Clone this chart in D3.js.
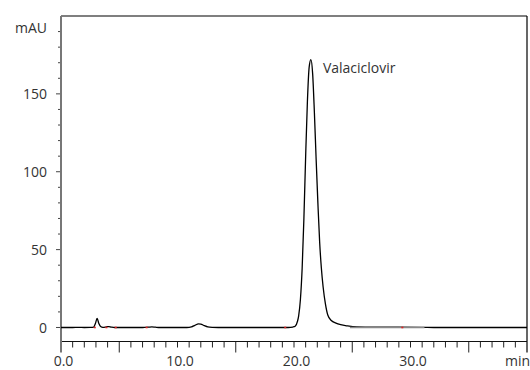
<!DOCTYPE html>
<html>
<head>
<meta charset="utf-8">
<script src="https://cdn.jsdelivr.net/npm/d3@7"></script>
<style>
  html, body { margin: 0; padding: 0; background: #fff; }
  svg { display: block; }
  text { font-family: "Open Sans", sans-serif; fill: #333; }
</style>
</head>
<body>
<svg id="chart" width="530" height="370"></svg>
<script>
// ---- data ----
const times = [0, 1.0, 1.5, 2.0, 2.5, 2.8, 2.95, 3.1, 3.25, 3.4, 3.6, 3.9, 4.1, 4.3, 4.6, 7.0, 7.5, 7.8, 8.1, 8.5,
  10.8, 11.2, 11.5, 11.8, 12.0, 12.3, 12.6, 13.0, 13.5, 19.5, 19.9, 20.1, 20.3, 20.4, 20.55, 20.7, 20.85, 21.0, 21.15,
  21.3, 21.45, 21.6, 21.75, 21.9, 22.05, 22.2, 22.35, 22.5, 22.7, 22.9, 23.2, 23.6, 24.0, 24.6, 25.4, 27.0, 31.0, 32.0, 40.0];
const signal = [0, 0, 0.1, 0, 0.1, 0.3, 2.5, 5.8, 2.5, 0.6, 0.1, 0.4, 0.6, 0.3, 0, 0, 0.2, 0.4, 0.2, 0,
  0, 0.4, 1.4, 2.3, 2.2, 1.2, 0.4, 0.1, 0, 0, 0.3, 0.8, 4, 7.5, 18, 38, 70, 110, 145,
  167, 172, 163, 138, 108, 80, 55, 38, 26, 15, 8, 4.5, 2.8, 1.8, 1.0, 0.4, 0.2, 0.1, 0, 0];
const markerTimes = [2.9, 3.9, 4.7, 7.35, 19.25, 29.3];
const baselineSegment = [24.8, 31.2];
const xTickLabels = [0, 10, 20, 30];
const yTickLabels = [0, 50, 100, 150];
const peakName = "Valaciclovir";
const peakTime = 21.45;
const peakValue = 172;

// ---- layout ----
const svg = d3.select("#chart");
const mLeft = 61, mRight = 527, mTop = 16, mBottom = 341.5;
const x = d3.scaleLinear().domain([0, 40]).range([mLeft, mRight]);
const y = d3.scaleLinear().domain([-9, 200]).range([mBottom, mTop]);

// y ticks
const yMinor = d3.range(0, 200, 10);
svg.append("g").selectAll("line").data(yMinor).join("line")
  .attr("x1", d => yTickLabels.includes(d) ? mLeft - 5 : mLeft - 3)
  .attr("x2", mLeft)
  .attr("y1", d => y(d)).attr("y2", d => y(d))
  .attr("stroke", "#444").attr("stroke-width", 1);

svg.append("g").selectAll("text").data(yTickLabels).join("text")
  .attr("x", 47).attr("y", d => y(d))
  .attr("text-anchor", "end").attr("dominant-baseline", "central")
  .attr("font-size", 14)
  .text(d => d);
svg.append("text").attr("x", 47).attr("y", 27)
  .attr("text-anchor", "end").attr("dominant-baseline", "central")
  .attr("font-size", 14).text("mAU");

// x ticks
const xMinor = d3.range(1, 40, 1);
svg.append("g").selectAll("line").data(xMinor).join("line")
  .attr("x1", d => x(d)).attr("x2", d => x(d))
  .attr("y1", mBottom)
  .attr("y2", d => d % 10 === 5 ? mBottom + 11 : mBottom + 6)
  .attr("stroke", "#222").attr("stroke-width", 1);

svg.append("g").selectAll("text").data(xTickLabels).join("text")
  .attr("x", d => x(d) + 2.5).attr("y", 366)
  .attr("text-anchor", "middle")
  .attr("font-size", 14)
  .text(d => d.toFixed(1));
svg.append("text").attr("x", 505).attr("y", 366)
  .attr("font-size", 14).text("min");

// frame
svg.append("line").attr("x1", mLeft).attr("x2", mRight).attr("y1", mTop).attr("y2", mTop)
  .attr("stroke", "#000").attr("stroke-width", 1.2);
svg.append("line").attr("x1", mRight).attr("x2", mRight).attr("y1", mTop).attr("y2", mBottom + 11)
  .attr("stroke", "#000").attr("stroke-width", 1.2);
svg.append("line").attr("x1", mLeft).attr("x2", mRight).attr("y1", mBottom).attr("y2", mBottom)
  .attr("stroke", "#111").attr("stroke-width", 1.2);
svg.append("line").attr("x1", mLeft).attr("x2", mLeft).attr("y1", mTop).attr("y2", mBottom + 11)
  .attr("stroke", "#777").attr("stroke-width", 2);

// chromatogram trace
const data = times.map((t, i) => [t, signal[i]]);
const line = d3.line().x(d => x(d[0])).y(d => y(d[1])).curve(d3.curveMonotoneX);
svg.append("path").datum(data).attr("d", line)
  .attr("fill", "none").attr("stroke", "#000").attr("stroke-width", 1.3)
  .attr("stroke-linejoin", "round");

// integration baseline segment
svg.append("line")
  .attr("x1", x(baselineSegment[0])).attr("x2", x(baselineSegment[1]))
  .attr("y1", y(0)).attr("y2", y(0))
  .attr("stroke", "#888").attr("stroke-width", 1.3);

// markers
svg.append("g").selectAll("rect").data(markerTimes).join("rect")
  .attr("x", d => x(d) - 1).attr("y", y(0) - 0.8)
  .attr("width", 2).attr("height", 1.6)
  .attr("fill", "#d22");

// peak label
svg.append("text").attr("x", x(peakTime) + 12).attr("y", y(peakValue) + 13)
  .attr("font-size", 14).text(peakName);
</script>
</body>
</html>
